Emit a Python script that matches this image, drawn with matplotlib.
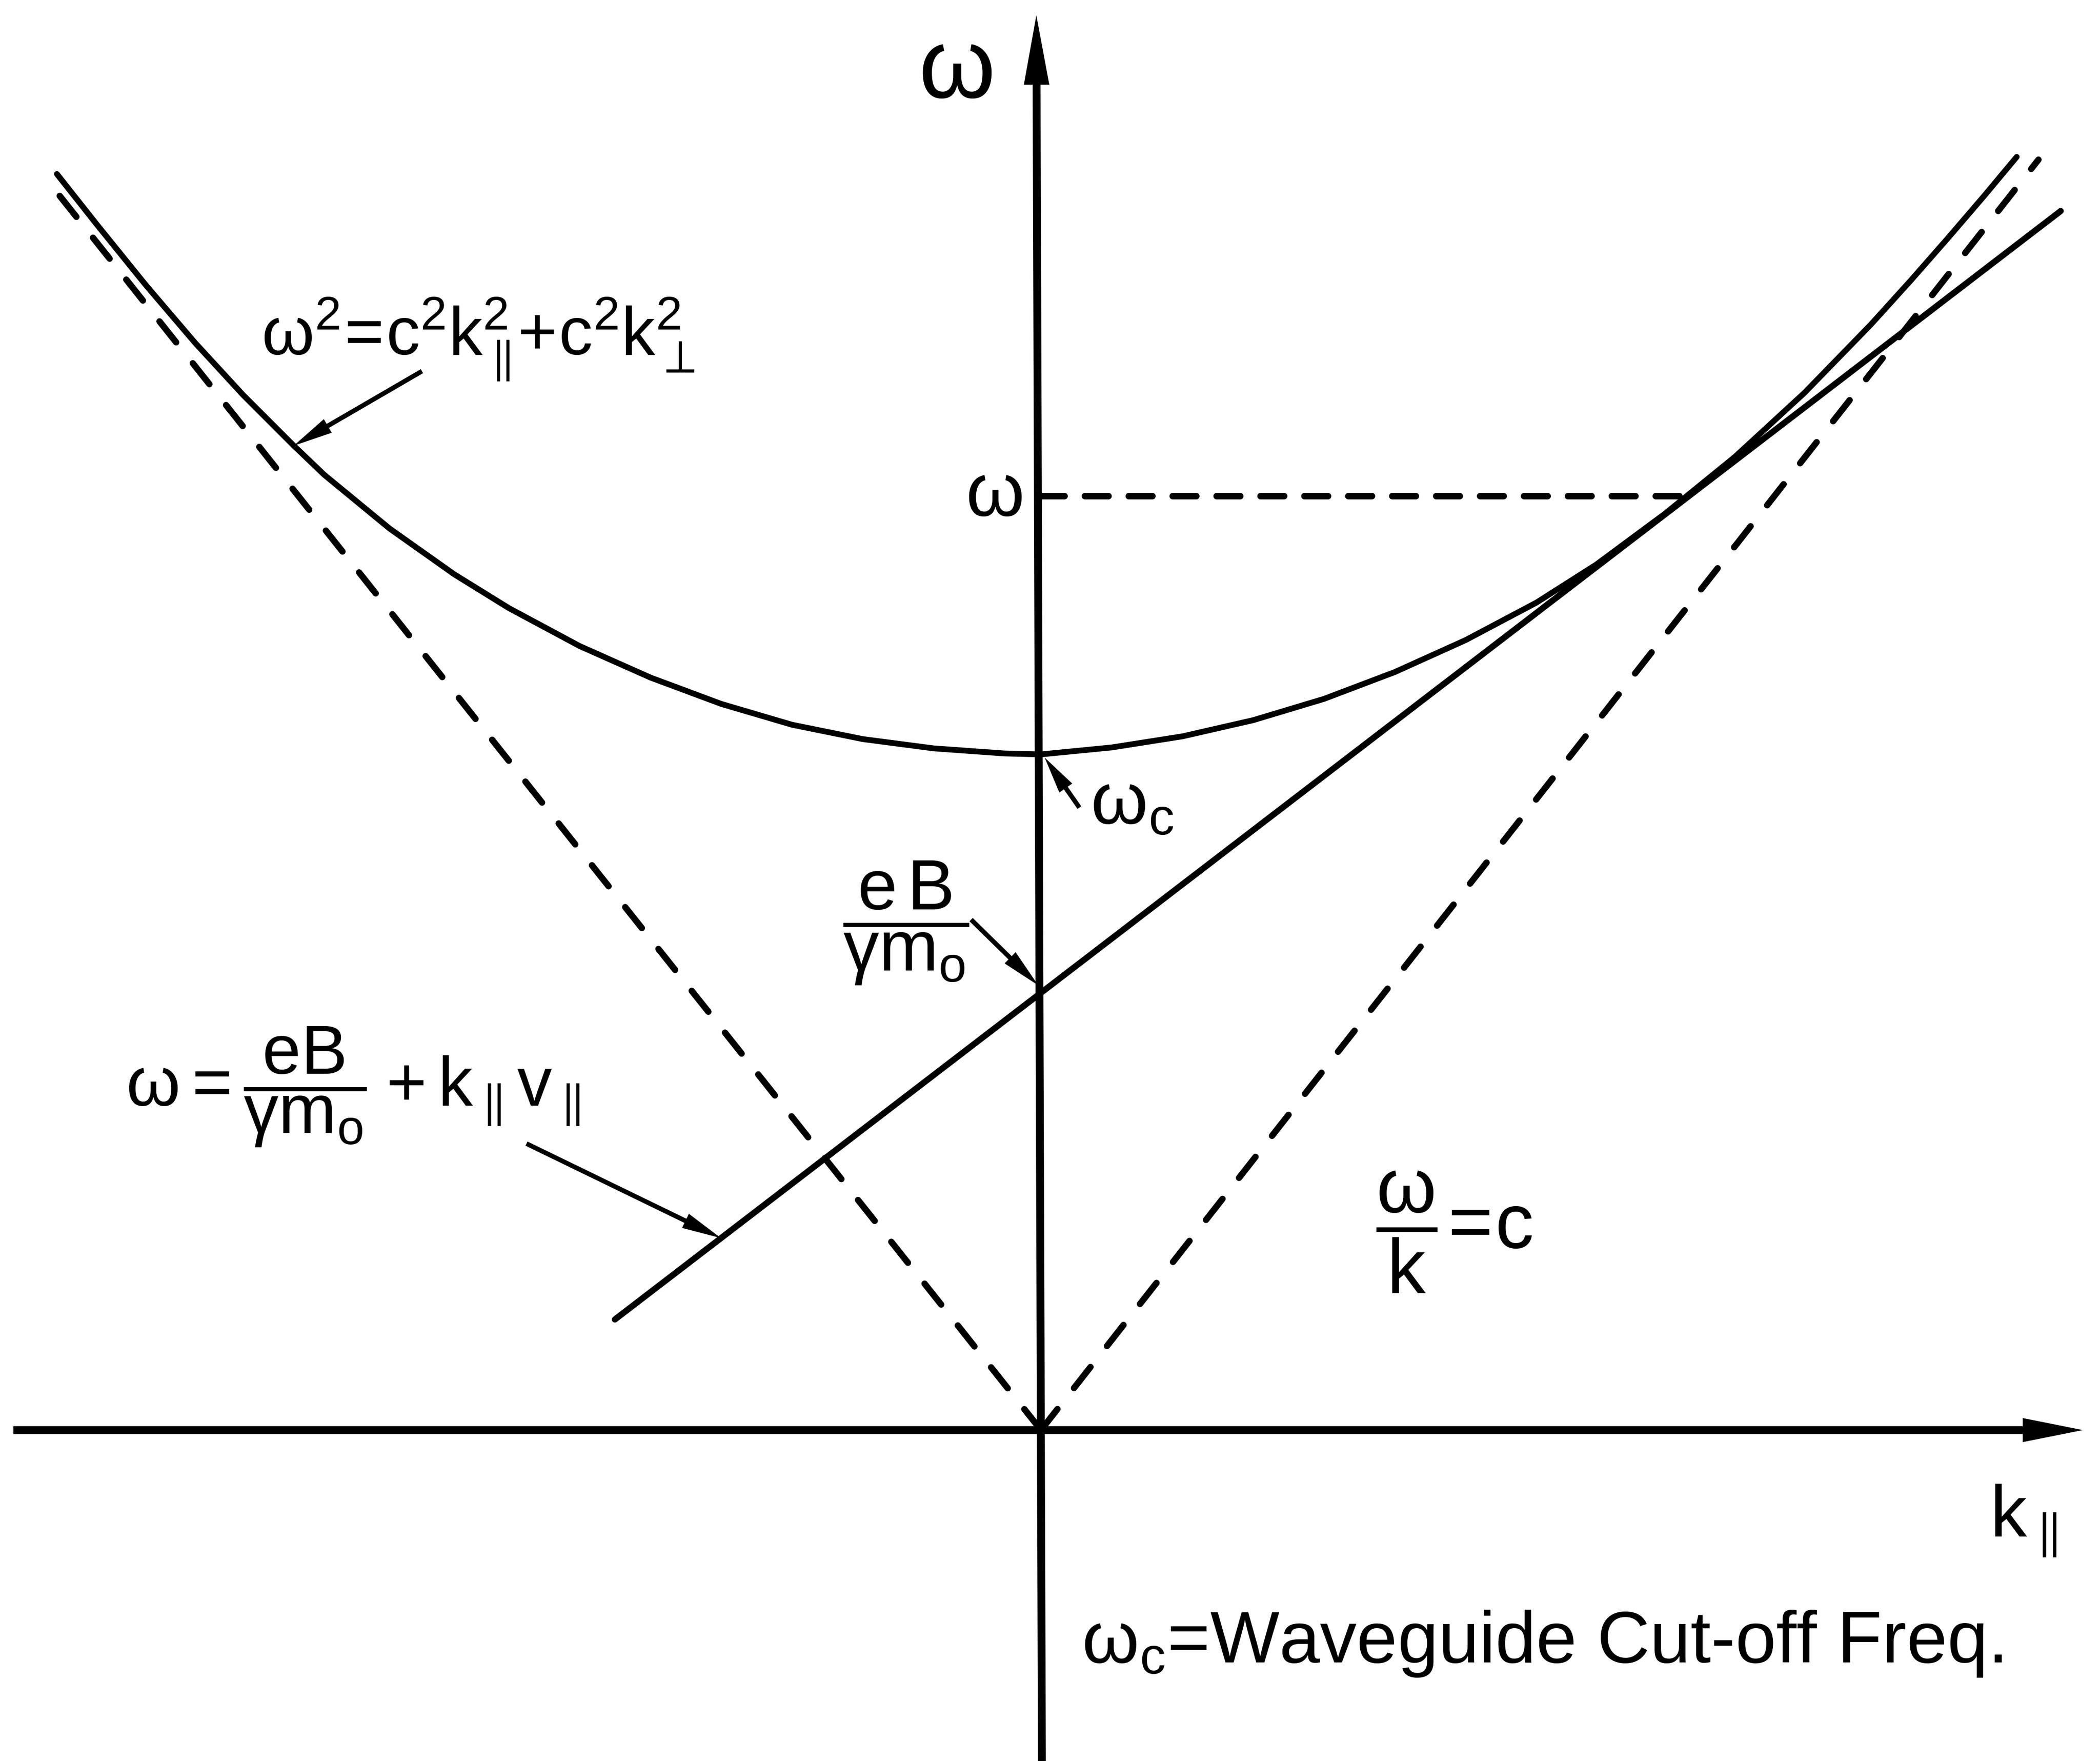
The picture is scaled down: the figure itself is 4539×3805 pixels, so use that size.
import matplotlib.pyplot as plt

plt.rcParams['font.family'] = ['Liberation Sans', 'DejaVu Sans']
plt.rcParams['mathtext.fontset'] = 'custom'
plt.rcParams['mathtext.rm'] = 'Liberation Sans'
plt.rcParams['mathtext.it'] = 'Liberation Sans'
plt.rcParams['mathtext.bf'] = 'Liberation Sans'
plt.rcParams['mathtext.sf'] = 'Liberation Sans'
plt.rcParams['mathtext.default'] = 'rm'
plt.rcParams['mathtext.fallback'] = 'stixsans'

# waveguide mode  w^2 = c^2 k_par^2 + c^2 k_perp^2  (k_par, omega)
mode_k = [-2127, -2040, -1934, -1829, -1724, -1615, -1549, -1408, -1268, -1150,
          -997, -844, -691, -538, -385, -232, -79, 0,
          153, 306, 459, 612, 765, 918, 1071, 1200, 1350, 1500, 1650,
          1793, 1880, 1959, 2038, 2109]
mode_w = [2714, 2604, 2473, 2350, 2236, 2127, 2064, 1948, 1849, 1776,
          1694, 1626, 1569, 1524, 1493, 1473, 1462, 1460,
          1475, 1499, 1534, 1580, 1638, 1707, 1788, 1870, 1981, 2103, 2241,
          2388, 2484, 2574, 2666, 2751]

# light lines w/k = c
light_left_k = [0, -2141]
light_left_w = [0, 2692]
light_right_k = [0, 2156]
light_right_w = [0, 2745]

# beam line  w = eB/(gamma m0) + k v
beam_k = [-921, 2204]
beam_w = [239, 2634]
cyclotron = 945
cutoff = 1460

# operating frequency
omega_op = 2018
omega_op_k = [0, 1398]

# axes extent
k_axis = [-2221, 2252]
w_axis = [-715, 3057]

fig = plt.figure(figsize=(4539 / 300, 3805 / 300), dpi=300)
ax = fig.add_axes([0, 0, 1, 1])
ax.set_xlim(-2250, 2289)
ax.set_ylim(-715, 3090)
ax.axis('off')


def arrow(x0, y0, x1, y1, width, head_width, head_length):
    ax.arrow(x0, y0, x1 - x0, y1 - y0, width=width, head_width=head_width,
             head_length=head_length, length_includes_head=True,
             fc='k', ec='k', lw=0)


# coordinate axes
arrow(k_axis[0], 0, k_axis[1], 0, 17, 52, 130)
arrow(2, w_axis[0], -10, w_axis[1], 17, 55, 150)

ax.plot(mode_k, mode_w, color='k', lw=3.0, solid_capstyle='round',
        solid_joinstyle='round')
ax.plot(beam_k, beam_w, color='k', lw=3.2, solid_capstyle='round')

dash = dict(color='k', lw=3.3, dash_capstyle='round', linestyle=(0, (4.2, 4.2)))
ax.plot(light_left_k, light_left_w, **dash)
ax.plot(light_right_k, light_right_w, **dash)
ax.plot(omega_op_k, [omega_op, omega_op], color='k', lw=3.4,
        dash_capstyle='round', linestyle=(0, (3.6, 3.1)))

# labels
ax.text(-185, 2935, r'$\omega$', fontsize=51, ha='center', va='center')
ax.text(-102, omega_op, r'$\omega$', fontsize=39, ha='center', va='center')
ax.text(2051, -230, r'$k_{\parallel}$', fontsize=38, ha='left', va='baseline')
ax.text(88, -502, r'$\omega_c$=Waveguide Cut-off Freq.', fontsize=38,
        ha='left', va='baseline')

ax.text(-1685, 2323,
        r'$\omega^2\!=\!c^2k_{\parallel}^2\!\!+\!c^2k_{\perp}^2$',
        fontsize=35, ha='left', va='baseline')
ax.text(107, 1425, r'$\omega_c$', fontsize=38, ha='left', va='top')
ax.text(-292, 1095, r'$\dfrac{e\,B}{\gamma m_o}$', fontsize=37,
        ha='center', va='center')
ax.text(-1978, 741, r'$\omega = \dfrac{eB}{\gamma m_o} + k_{\parallel}v_{\parallel}$',
        fontsize=36, ha='left', va='center')
ax.text(724, 428, r'$\dfrac{\omega}{k}\!=\!c$', fontsize=40, ha='left', va='center')

# pointers
arrow(-1338, 2288, -1615, 2127, 10, 34, 85)
arrow(-151, 1103, -6, cyclotron + 16, 10, 34, 85)
arrow(83, 1345, 8, cutoff - 7, 10, 34, 80)
arrow(-1112, 619, -692, 415, 10, 34, 85)

fig.savefig('out.png', dpi=300, facecolor='white')
